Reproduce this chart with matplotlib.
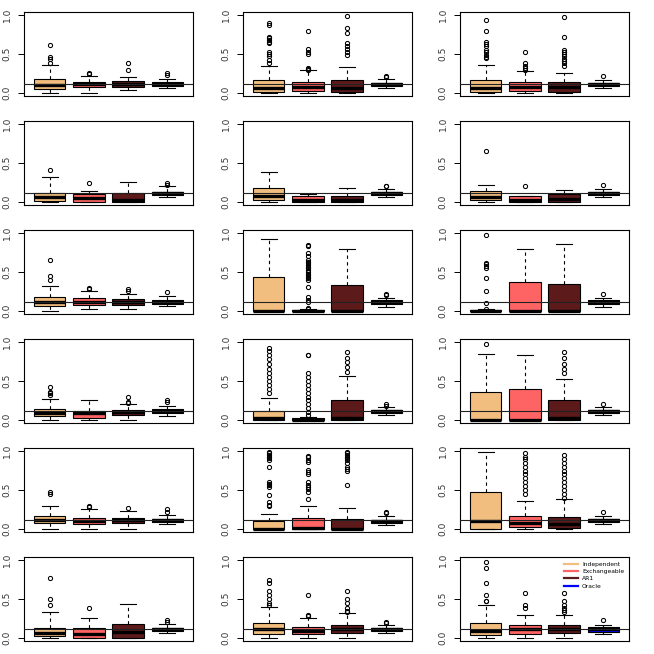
import matplotlib
matplotlib.use('Agg')
import matplotlib.pyplot as plt
from matplotlib.lines import Line2D

# ── Data: 6 rows x 3 cols, 4 methods each ──────────────────────────────────
METHODS = ["Independent", "Exchangeable", "AR1", "Oracle"]
COLORS  = ["#F2BE80", "#FF6464", "#5C1A1A", "blue"]
REF_Y   = 0.11
YTICKS  = [0.0, 0.5, 1.0]
YTICKLABELS = ["0.0", "0.5", "1.0"]

Q1 = [
    [0.05, 0.075, 0.075, 0.09], [0.01, 0.03, 0.01, 0.09], [0.01, 0.02, 0.01, 0.09],
    [0.01, 0.0, 0.0, 0.09],     [0.02, 0.0, 0.0, 0.09],   [0.02, 0.0, 0.0, 0.09],
    [0.06, 0.08, 0.08, 0.09],   [0.0, 0.0, 0.0, 0.085],   [0.0, 0.0, 0.0, 0.09],
    [0.055, 0.03, 0.065, 0.085], [0.0, 0.0, 0.0, 0.09],   [0.0, 0.0, 0.0, 0.09],
    [0.08, 0.06, 0.07, 0.09],   [0.0, 0.0, 0.0, 0.08],    [0.0, 0.02, 0.01, 0.09],
    [0.02, 0.0, 0.0, 0.09],     [0.05, 0.05, 0.06, 0.09], [0.034, 0.056, 0.065, 0.08],
]
MED = [
    [0.10, 0.11, 0.11, 0.11], [0.06, 0.07, 0.06, 0.11], [0.06, 0.08, 0.075, 0.11],
    [0.06, 0.05, 0.03, 0.11], [0.08, 0.03, 0.03, 0.11], [0.06, 0.03, 0.04, 0.11],
    [0.12, 0.12, 0.11, 0.11], [0.0, 0.0, 0.0, 0.11],    [0.0, 0.0, 0.0, 0.11],
    [0.09, 0.09, 0.10, 0.11], [0.02, 0.0, 0.03, 0.11],  [0.0, 0.0, 0.02, 0.11],
    [0.12, 0.10, 0.11, 0.11], [0.0, 0.01, 0.0, 0.10],   [0.10, 0.08, 0.06, 0.11],
    [0.06, 0.05, 0.08, 0.11], [0.11, 0.09, 0.11, 0.11], [0.085, 0.11, 0.11, 0.11],
]
Q3 = [
    [0.175, 0.145, 0.15, 0.135], [0.16, 0.14, 0.16, 0.13], [0.16, 0.135, 0.145, 0.13],
    [0.12, 0.10, 0.11, 0.13],    [0.18, 0.07, 0.08, 0.13], [0.14, 0.07, 0.10, 0.13],
    [0.18, 0.17, 0.15, 0.14],    [0.44, 0.01, 0.33, 0.135], [0.015, 0.37, 0.345, 0.14],
    [0.14, 0.12, 0.13, 0.135],   [0.12, 0.02, 0.25, 0.13], [0.36, 0.40, 0.25, 0.13],
    [0.17, 0.14, 0.14, 0.13],    [0.10, 0.134, 0.125, 0.12], [0.48, 0.17, 0.15, 0.13],
    [0.13, 0.13, 0.18, 0.13],    [0.19, 0.14, 0.17, 0.13], [0.193, 0.17, 0.17, 0.14],
]
LO = [
    [0.0, 0.0, 0.04, 0.06], [0.0, 0.0, 0.0, 0.06], [0.0, 0.0, 0.0, 0.06],
    [0.0, 0.0, 0.0, 0.06],  [0.0, 0.0, 0.0, 0.06], [0.0, 0.0, 0.0, 0.06],
    [0.0, 0.02, 0.02, 0.06], [0.0, 0.0, 0.0, 0.05], [0.0, 0.0, 0.0, 0.05],
    [0.0, 0.0, 0.0, 0.055], [0.0, 0.0, 0.0, 0.06], [0.0, 0.0, 0.0, 0.06],
    [0.0, 0.0, 0.0, 0.06],  [0.0, 0.0, 0.0, 0.05], [0.0, 0.0, 0.0, 0.06],
    [0.0, 0.0, 0.0, 0.06],  [0.0, 0.0, 0.0, 0.06], [0.0, 0.0, 0.0, 0.056],
]
HI = [
    [0.36, 0.22, 0.21, 0.18], [0.35, 0.29, 0.33, 0.18], [0.36, 0.28, 0.26, 0.17],
    [0.32, 0.14, 0.25, 0.20], [0.38, 0.10, 0.18, 0.17], [0.22, 0.07, 0.15, 0.17],
    [0.32, 0.25, 0.22, 0.19], [0.93, 0.02, 0.79, 0.17], [0.02, 0.79, 0.86, 0.17],
    [0.27, 0.25, 0.21, 0.18], [0.28, 0.04, 0.57, 0.17], [0.85, 0.84, 0.53, 0.17],
    [0.30, 0.25, 0.23, 0.18], [0.19, 0.29, 0.27, 0.17], [0.99, 0.36, 0.38, 0.17],
    [0.33, 0.25, 0.43, 0.18], [0.40, 0.25, 0.32, 0.17], [0.42, 0.30, 0.30, 0.17],
]
FLIERS = [
    [[0.61, 0.46, 0.44, 0.38], [0.26, 0.24], [0.38, 0.30], [0.26, 0.23]],
    [[0.90, 0.87, 0.72, 0.70, 0.68, 0.66, 0.64, 0.53, 0.50, 0.48, 0.42, 0.38],
     [0.79, 0.56, 0.53, 0.50, 0.32, 0.31, 0.30],
     [0.99, 0.83, 0.77, 0.64, 0.60, 0.56, 0.52, 0.49], [0.22, 0.20]],
    [[0.94, 0.79, 0.66, 0.63, 0.60, 0.55, 0.52, 0.49, 0.46, 0.45],
     [0.53, 0.38, 0.35, 0.32, 0.30],
     [0.97, 0.72, 0.55, 0.52, 0.50, 0.47, 0.44, 0.41, 0.38, 0.35], [0.22]],
    [[0.41], [0.24], [], [0.24, 0.22]],
    [[], [], [], [0.21, 0.20]],
    [[0.66], [0.20], [], [0.22]],
    [[0.65, 0.45, 0.40], [0.30, 0.28], [0.28, 0.25], [0.24]],
    [[], [0.85, 0.84, 0.74, 0.70, 0.66, 0.63, 0.61, 0.59, 0.57, 0.55, 0.53, 0.50,
          0.48, 0.46, 0.44, 0.42, 0.40, 0.31, 0.18, 0.14, 0.11, 0.04, 0.03],
     [], [0.22, 0.20]],
    [[0.97, 0.62, 0.60, 0.58, 0.55, 0.42, 0.26, 0.10, 0.03], [], [], [0.22]],
    [[0.42, 0.36, 0.34, 0.32], [], [0.30, 0.23, 0.22], [0.25, 0.23]],
    [[0.92, 0.88, 0.84, 0.78, 0.72, 0.66, 0.60, 0.55, 0.50, 0.45, 0.40, 0.35],
     [0.84, 0.83, 0.60, 0.55, 0.50, 0.45, 0.40, 0.35, 0.30, 0.25, 0.20, 0.15, 0.10, 0.06],
     [0.87, 0.80, 0.74, 0.68, 0.62], [0.20, 0.18]],
    [[0.97], [], [0.87, 0.80, 0.72, 0.65, 0.60], [0.21]],
    [[0.47, 0.45], [0.30, 0.28], [0.27], [0.25, 0.22]],
    [[0.99, 0.97, 0.95, 0.93, 0.91, 0.89, 0.80, 0.60, 0.58, 0.56, 0.54, 0.43, 0.34, 0.31, 0.29],
     [0.94, 0.92, 0.89, 0.86, 0.76, 0.73, 0.70, 0.60, 0.57, 0.54, 0.51, 0.48, 0.39],
     [0.99, 0.97, 0.95, 0.93, 0.91, 0.88, 0.85, 0.80, 0.77, 0.74, 0.56], [0.22, 0.20]],
    [[], [0.97, 0.93, 0.90, 0.85, 0.80, 0.75, 0.70, 0.65, 0.60, 0.55, 0.50, 0.45],
     [0.95, 0.90, 0.85, 0.80, 0.75, 0.70, 0.65, 0.60, 0.55, 0.50, 0.45, 0.40], [0.22]],
    [[0.77, 0.50, 0.42], [0.38], [], [0.23, 0.21]],
    [[0.75, 0.70, 0.60, 0.55, 0.50, 0.45, 0.42], [0.55, 0.30, 0.28],
     [0.60, 0.50, 0.45, 0.38, 0.35, 0.33], [0.20, 0.19]],
    [[0.975, 0.90, 0.70, 0.55, 0.48, 0.47], [0.58, 0.42, 0.39],
     [0.58, 0.48, 0.42, 0.39, 0.36, 0.33], [0.23]],
]

NROWS, NCOLS = 6, 3
W = H = 654

fig = plt.figure(figsize=(6.54, 6.54), dpi=100)
col_left = [24, 243, 460]
ax_w, ax_h = 169, 84

for p in range(NROWS * NCOLS):
    r, c = divmod(p, NCOLS)
    top = 12 + 109 * r
    ax = fig.add_axes([col_left[c] / W, 1 - (top + ax_h) / H, ax_w / W, ax_h / H])

    stats = []
    for k in range(4):
        stats.append(dict(med=MED[p][k], q1=Q1[p][k], q3=Q3[p][k],
                          whislo=LO[p][k], whishi=HI[p][k], fliers=FLIERS[p][k]))
    bp = ax.bxp(stats, positions=[1, 2, 3, 4], widths=0.8, capwidths=0.4,
                patch_artist=True, showfliers=True,
                boxprops=dict(edgecolor="black", linewidth=0.8),
                medianprops=dict(color="black", linewidth=2.4, solid_capstyle="butt"),
                whiskerprops=dict(color="black", linewidth=0.8, linestyle=(0, (3, 3))),
                capprops=dict(color="black", linewidth=0.8),
                flierprops=dict(marker="o", markersize=3.0, markerfacecolor="none",
                                markeredgecolor="black", markeredgewidth=0.75))
    for patch, col in zip(bp["boxes"], COLORS):
        patch.set_facecolor(col)

    ax.axhline(REF_Y, color="#222222", linewidth=0.8, zorder=10)

    ax.set_xlim(0.34, 4.66)
    ax.set_ylim(-0.04, 1.04)
    ax.set_xticks([])
    ax.set_yticks(YTICKS)
    ax.set_yticklabels(YTICKLABELS, rotation=90, va="center", fontsize=6.5,
                       color="#333333")
    ax.tick_params(axis="y", direction="out", length=4.5, width=0.7, pad=4.5)
    for s in ax.spines.values():
        s.set_linewidth(0.8)

    if p == NROWS * NCOLS - 1:
        handles = [Line2D([], [], color=col, linewidth=1.6) for col in COLORS]
        ax.legend(handles, METHODS, loc="upper right", bbox_to_anchor=(1.0, 1.0),
                  frameon=False, fontsize=4.3, handlelength=2.4, handletextpad=0.7,
                  labelspacing=0.35, borderaxespad=0.4)

fig.savefig("out.png", dpi=100)
